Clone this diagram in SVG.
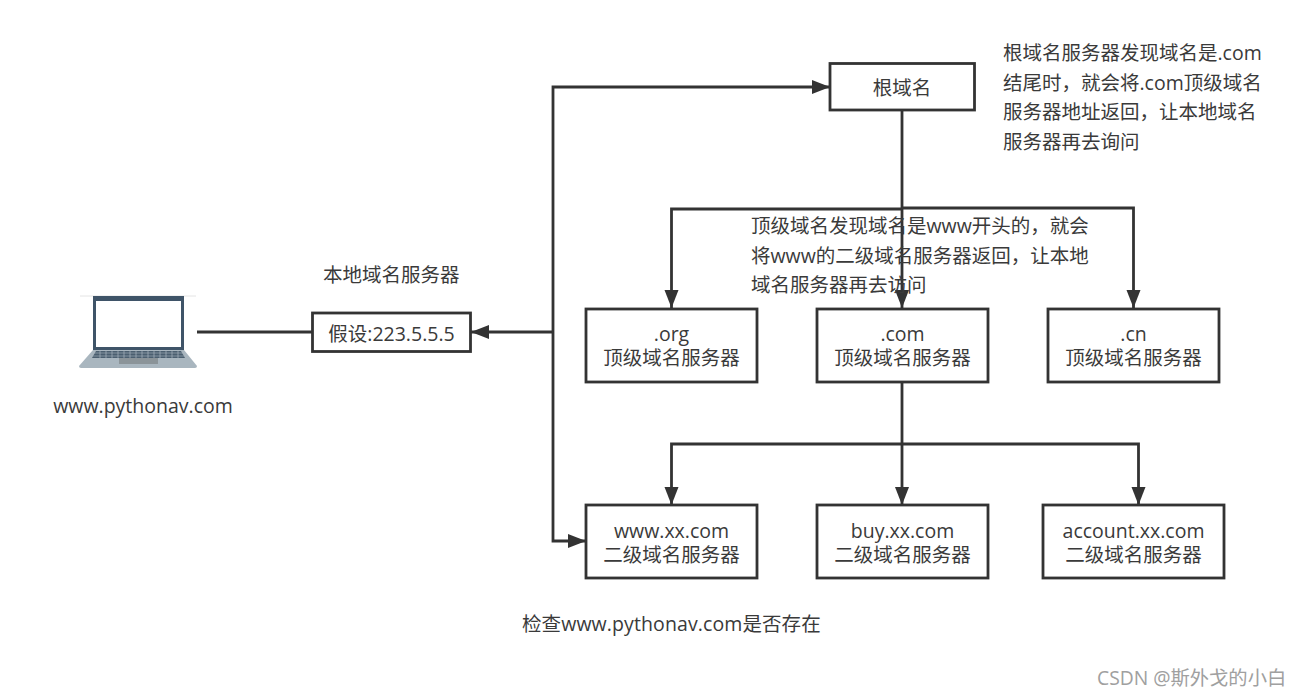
<svg xmlns="http://www.w3.org/2000/svg" width="1301" height="697" viewBox="0 0 1301 697">
<style>
text{font-family:"Open Sans","Noto Sans CJK SC",sans-serif;font-size:19.5px;fill:#3a3a3a}
.m{text-anchor:middle}
.b{fill:#fff;stroke:#333;stroke-width:2.8}
.c{fill:none;stroke:#333;stroke-width:2.8}
</style>
<defs><marker id="a" markerUnits="userSpaceOnUse" markerWidth="20" markerHeight="16" refX="18" refY="7" orient="auto"><path d="M0 0L18 7L0 14Z" fill="#333"/></marker></defs>
<rect width="1301" height="697" fill="#fff"/>
<g id="connectors">
<path class="c" d="M197 332H312"/>
<path class="c" d="M553 332H471" marker-end="url(#a)"/>
<path class="c" d="M553 332V87H830" marker-end="url(#a)"/>
<path class="c" d="M553 332V541H586" marker-end="url(#a)"/>
<path class="c" d="M902 110V308" marker-end="url(#a)"/>
<path class="c" d="M902 209H671.500V308" marker-end="url(#a)"/>
<path class="c" d="M902 208H1133.500V308" marker-end="url(#a)"/>
<path class="c" d="M902 382V505" marker-end="url(#a)"/>
<path class="c" d="M902 444H671.500V505" marker-end="url(#a)"/>
<path class="c" d="M902 444H1138.500V505" marker-end="url(#a)"/>
</g>
<g id="laptop">
<path d="M80 296H196" stroke="#e4e4e4" stroke-width="1"/>
<rect x="93" y="296" width="91" height="54" fill="#3f5468"/>
<rect x="96" y="301" width="85" height="46" fill="#fff"/>
<path d="M93 350H184L197 366Q197 368 195 368H81Q79 368 79 366Z" fill="#a9b6bf"/>
<path d="M96 351H181L185 358H92Z" fill="#4b5f70"/>
<path d="M94 353H183M93 356H184" stroke="#a9b6bf" stroke-width=".6"/>
<path d="M100 351V358M106 351V358M112 351V358M118 351V358M124 351V358M130 351V358M136 351V358M142 351V358M148 351V358M154 351V358M160 351V358M166 351V358M172 351V358M178 351V358" stroke="#a9b6bf" stroke-width=".7"/>
<rect x="119" y="358" width="39" height="6" fill="#8b9499"/>
<text class="m" x="143" y="413">www.pythonav.com</text>
</g>
<g id="local-label"><text x="323" y="282">本地域名服务器</text></g>
<g id="local"><rect class="b" x="312.500" y="313" width="158" height="38.500"/><text class="m" x="391.500" y="341">假设:223.5.5.5</text></g>
<g id="root"><rect class="b" x="830" y="63.500" width="144.500" height="46.500"/><text class="m" x="902" y="95">根域名</text></g>
<g id="org"><rect class="b" x="586" y="309" width="171" height="73"/><text class="m"><tspan x="671.500" y="341">.org</tspan><tspan x="671.500" y="365">顶级域名服务器</tspan></text></g>
<g id="com"><rect class="b" x="817" y="309" width="171" height="73"/><text class="m"><tspan x="902.500" y="341">.com</tspan><tspan x="902.500" y="365">顶级域名服务器</tspan></text></g>
<g id="cn"><rect class="b" x="1048" y="309" width="171" height="73"/><text class="m"><tspan x="1133.500" y="341">.cn</tspan><tspan x="1133.500" y="365">顶级域名服务器</tspan></text></g>
<g id="www"><rect class="b" x="586" y="505" width="171" height="73"/><text class="m"><tspan x="671.500" y="538">www.xx.com</tspan><tspan x="671.500" y="562">二级域名服务器</tspan></text></g>
<g id="buy"><rect class="b" x="817" y="505" width="171" height="73"/><text class="m"><tspan x="902.500" y="538">buy.xx.com</tspan><tspan x="902.500" y="562">二级域名服务器</tspan></text></g>
<g id="account"><rect class="b" x="1043" y="505" width="181" height="73"/><text class="m"><tspan x="1133.500" y="538">account.xx.com</tspan><tspan x="1133.500" y="562">二级域名服务器</tspan></text></g>
<g id="note-root"><text x="1003" y="60">根域名服务器发现域名是.com</text><text x="1003" y="90">结尾时，就会将.com顶级域名</text><text x="1003" y="119">服务器地址返回，让本地域名</text><text x="1003" y="149">服务器再去询问</text></g>
<g id="note-tld"><text x="751" y="233">顶级域名发现域名是www开头的，就会</text><text x="751" y="263">将www的二级域名服务器返回，让本地</text><text x="751" y="292">域名服务器再去访问</text></g>
<g id="check"><text x="522" y="631" style="letter-spacing:.1px">检查www.pythonav.com是否存在</text></g>
<g id="watermark"><text x="1097" y="685" style="font-size:19.300px;fill:#a0a0a0">CSDN @斯外戈的小白</text></g>
</svg>
